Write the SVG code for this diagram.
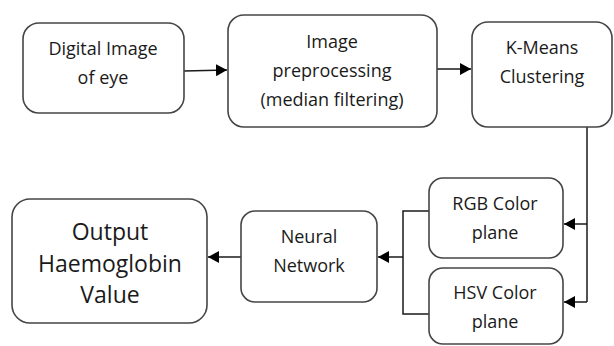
<svg xmlns="http://www.w3.org/2000/svg" width="614" height="346" viewBox="0 0 614 346">
<style>
.box{fill:#fff;stroke:#454545;stroke-width:1.6}
.t{font-family:"Open Sans","Noto Sans",sans-serif;font-size:18px;fill:#1a1a1a;text-anchor:middle}
.big{font-size:23px}
.c{fill:none;stroke:#1a1a1a;stroke-width:1.5}
</style>
<defs>
<marker id="ah" markerWidth="12" markerHeight="12" refX="11" refY="6" orient="auto" markerUnits="userSpaceOnUse">
<path d="M0,0 L11,6 L0,12 Z" fill="#000"/>
</marker>
</defs>
<rect width="614" height="346" fill="#fff"/>
<g id="connectors">
<path class="c" d="M184,71 L227,70" marker-end="url(#ah)"/>
<path class="c" d="M437,69 L471,69" marker-end="url(#ah)"/>
<path class="c" d="M587,127 L587,302"/>
<path class="c" d="M587,224 L564,224" marker-end="url(#ah)"/>
<path class="c" d="M587,302 L564,302" marker-end="url(#ah)"/>
<path class="c" d="M429,211 L403,211 L403,314 L429,314"/>
<path class="c" d="M403,257 L378,257" marker-end="url(#ah)"/>
<path class="c" d="M241,257 L208,257" marker-end="url(#ah)"/>
</g>
<g id="n1">
<rect class="box" x="23" y="23" width="161" height="90" rx="16"/>
<text class="t" x="103" y="55">Digital Image</text>
<text class="t" x="103" y="84">of eye</text>
</g>
<g id="n2">
<rect class="box" x="228" y="15" width="209" height="112" rx="16"/>
<text class="t" x="332" y="48">Image</text>
<text class="t" x="332" y="77">preprocessing</text>
<text class="t" x="332" y="106">(median filtering)</text>
</g>
<g id="n3">
<rect class="box" x="472" y="22" width="140" height="105" rx="16"/>
<text class="t" x="542" y="54">K-Means</text>
<text class="t" x="542" y="83">Clustering</text>
</g>
<g id="n4">
<rect class="box" x="429" y="178" width="134" height="80" rx="14"/>
<text class="t" x="495" y="210">RGB Color</text>
<text class="t" x="495" y="239">plane</text>
</g>
<g id="n5">
<rect class="box" x="429" y="268" width="134" height="76" rx="14"/>
<text class="t" x="495" y="299">HSV Color</text>
<text class="t" x="495" y="328">plane</text>
</g>
<g id="n6">
<rect class="box" x="241" y="211" width="136" height="91" rx="14"/>
<text class="t" x="309" y="243">Neural</text>
<text class="t" x="309" y="272">Network</text>
</g>
<g id="n7">
<rect class="box" x="12" y="199" width="195" height="124" rx="18"/>
<text class="t big" x="110" y="240">Output</text>
<text class="t big" x="110" y="272">Haemoglobin</text>
<text class="t big" x="110" y="303">Value</text>
</g>
</svg>
